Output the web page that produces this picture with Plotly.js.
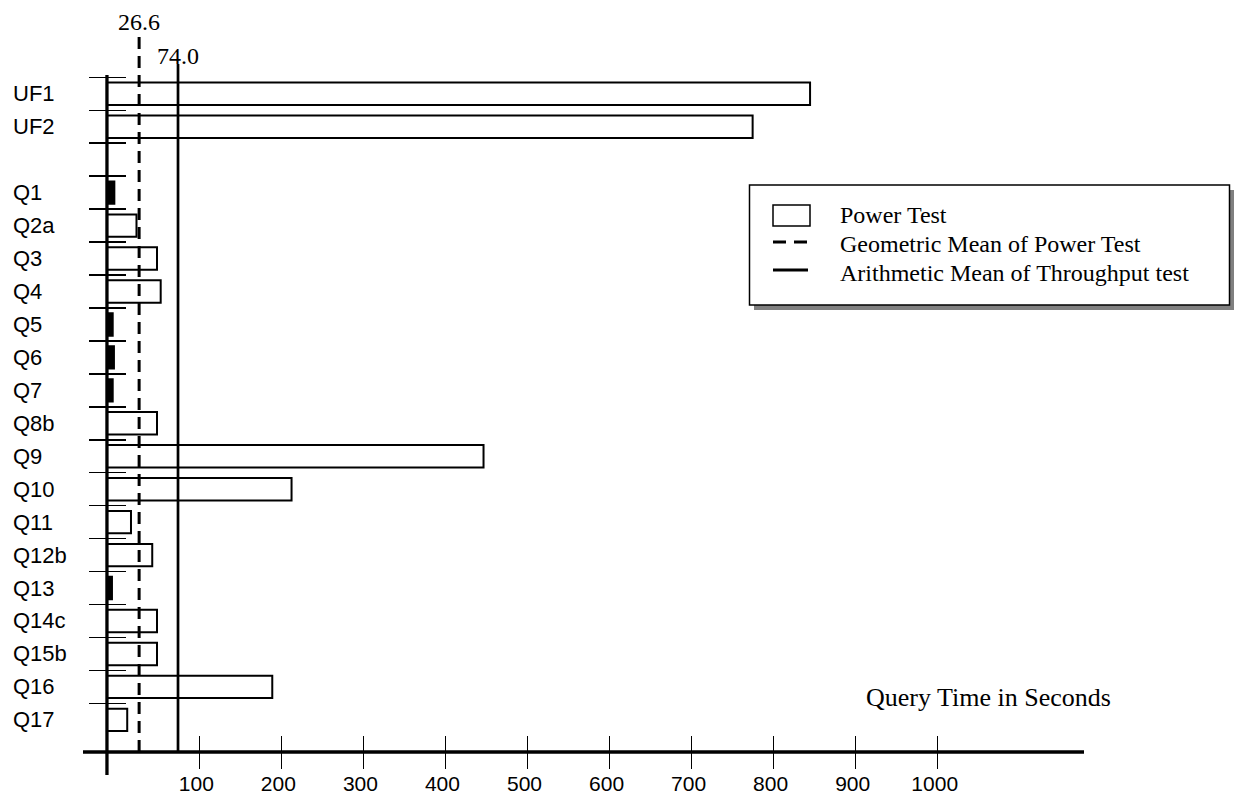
<!DOCTYPE html>
<html><head><meta charset="utf-8">
<script src="https://cdn.plot.ly/plotly-3.0.1.min.js"></script>
<style>html,body{margin:0;padding:0;background:#fff;}#chart{width:1234px;height:799px;}</style>
</head><body><div id="chart"></div>
<script>
// ---- data ----
const categories = ["UF1","UF2"," ","Q1","Q2a","Q3","Q4","Q5","Q6","Q7","Q8b","Q9","Q10","Q11","Q12b","Q13","Q14c","Q15b","Q16","Q17"];
const powerTest = [857,787,null,9,36,61,65.5,7,8.5,7,61,459,225,29.3,55.2,6.1,61,61,201.5,24.7];
const geometricMeanPower = 26.6;
const arithmeticMeanThroughput = 74.0;
const xTickValues = [100,200,300,400,500,600,700,800,900,1000];
const xTickLabels = ["100","200","300","400","500","600","700","800","900","1000"];
const seriesNames = ["Power Test","Geometric Mean of Power Test","Arithmetic Mean of Throughput test"];
const axisTitle = "Query Time in Seconds";

// ---- layout helpers ----
const W = 1234, H = 799;
const M = {l: 83, r: 150, t: 75, b: 24};
const PW = W - M.l - M.r, PH = H - M.t - M.b;
const px2x = px => (px - M.l) / PW;
const py2y = py => (H - M.b - py) / PH;
const AXIS_ORIGIN = -12.6;          // where the vertical axis is drawn
const X_RANGE = [-41.8, 1178.3];
const Y_RANGE = [19.43, -0.57];

const SANS = "Liberation Sans, Arial, sans-serif";
const SERIF = "Liberation Serif, Times New Roman, serif";

const barColors = powerTest.map(v => (v !== null && v < 10) ? "black" : "white");

const traces = [{
  type: "bar",
  orientation: "h",
  y: categories,
  x: powerTest,
  base: AXIS_ORIGIN,
  name: seriesNames[0],
  marker: {color: barColors, line: {color: "black", width: 2}},
  hoverinfo: "y+x",
  showlegend: false
}];

const shapes = [
  // axes
  {type: "line", xref: "x", yref: "paper", x0: AXIS_ORIGIN, x1: AXIS_ORIGIN, y0: 0, y1: 1, line: {color: "black", width: 3.3}},
  {type: "line", xref: "paper", yref: "paper", x0: 0, x1: 1, y0: py2y(752), y1: py2y(752), line: {color: "black", width: 3.5}},
  // mean lines
  {type: "line", xref: "x", yref: "paper", x0: geometricMeanPower, x1: geometricMeanPower, y0: py2y(752), y1: py2y(37), line: {color: "black", width: 3, dash: "12px,7px"}},
  {type: "line", xref: "x", yref: "paper", x0: arithmeticMeanThroughput, x1: arithmeticMeanThroughput, y0: py2y(752), y1: py2y(64), line: {color: "black", width: 2.7}},
  // legend box
  {type: "rect", xref: "paper", yref: "paper", x0: px2x(754), x1: px2x(1234), y0: py2y(310), y1: py2y(190), fillcolor: "#808080", line: {width: 0}},
  {type: "rect", xref: "paper", yref: "paper", x0: px2x(749.5), x1: px2x(1229.5), y0: py2y(305), y1: py2y(185), fillcolor: "white", line: {color: "black", width: 1.5}},
  {type: "rect", xref: "paper", yref: "paper", x0: px2x(773), x1: px2x(810), y0: py2y(226), y1: py2y(205), fillcolor: "white", line: {color: "black", width: 1.5}},
  {type: "line", xref: "paper", yref: "paper", x0: px2x(773), x1: px2x(807), y0: py2y(242), y1: py2y(242), line: {color: "black", width: 3, dash: "13px,8px"}},
  {type: "line", xref: "paper", yref: "paper", x0: px2x(773), x1: px2x(808), y0: py2y(270), y1: py2y(270), line: {color: "black", width: 3}}
];

const annotations = [];
categories.forEach(c => {
  if (c.trim() === "") return;
  annotations.push({xref: "paper", yref: "y", x: px2x(11), y: c, text: c, showarrow: false,
    xanchor: "left", yanchor: "middle", font: {family: SANS, size: 22, color: "black"}});
});
annotations.push({xref: "x", yref: "paper", x: geometricMeanPower, y: py2y(22), text: geometricMeanPower.toFixed(1),
  showarrow: false, xanchor: "center", yanchor: "middle", font: {family: SERIF, size: 24, color: "black"}});
annotations.push({xref: "x", yref: "paper", x: arithmeticMeanThroughput, y: py2y(56), text: arithmeticMeanThroughput.toFixed(1),
  showarrow: false, xanchor: "center", yanchor: "middle", font: {family: SERIF, size: 24, color: "black"}});
annotations.push({xref: "paper", yref: "paper", x: px2x(864), y: py2y(697), text: axisTitle,
  showarrow: false, xanchor: "left", yanchor: "middle", font: {family: SERIF, size: 26, color: "black"}});
[215, 244, 273].forEach((py, i) => {
  annotations.push({xref: "paper", yref: "paper", x: px2x(838), y: py2y(py), text: seriesNames[i],
    showarrow: false, xanchor: "left", yanchor: "middle", font: {family: SERIF, size: 24, color: "black"}});
});

const layout = {
  width: W, height: H,
  margin: M,
  paper_bgcolor: "white", plot_bgcolor: "rgba(0,0,0,0)",
  showlegend: false,
  bargap: 0.32,
  xaxis: {
    range: X_RANGE, anchor: "free", position: py2y(735),
    tickmode: "array", tickvals: xTickValues, ticktext: xTickLabels,
    ticks: "outside", ticklen: 33, tickwidth: 1.5, tickcolor: "black",
    ticklabelshift: -3, ticklabelstandoff: -3,
    showline: false, showgrid: false, zeroline: false,
    tickfont: {family: SANS, size: 21, color: "black"}
  },
  yaxis: {
    type: "category", categoryorder: "array", categoryarray: categories,
    range: Y_RANGE, domain: [py2y(734), 1], anchor: "free", position: px2x(126),
    ticks: "outside", ticklen: 37, tickwidth: 1.5, tickcolor: "black", tickson: "boundaries",
    showticklabels: false, showline: false, showgrid: false, zeroline: false
  },
  shapes: shapes,
  annotations: annotations
};

Plotly.newPlot("chart", traces, layout, {displayModeBar: false, staticPlot: true});
</script>
</body></html>
